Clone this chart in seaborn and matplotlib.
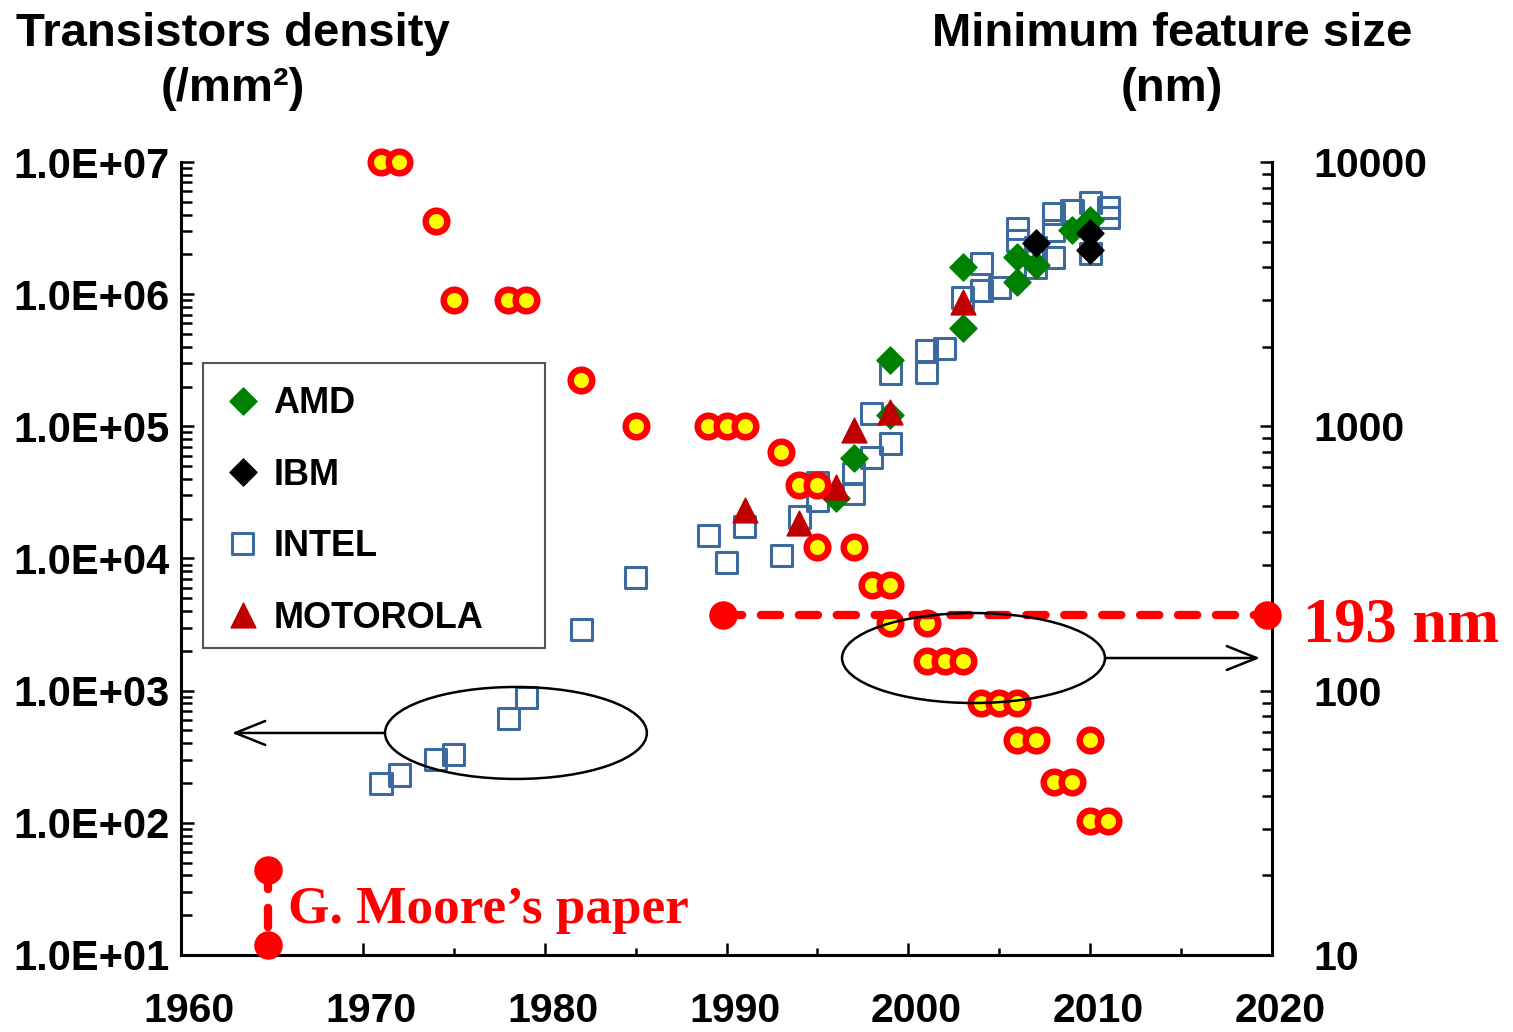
import matplotlib
matplotlib.use("Agg")
import matplotlib.pyplot as plt
import seaborn as sns
from matplotlib.patches import Ellipse, Rectangle
from matplotlib.ticker import FixedLocator, FuncFormatter, NullFormatter, MultipleLocator, LogLocator
from matplotlib.transforms import ScaledTranslation

# ---- Transistor density (transistors / mm^2), left axis ----
amd_year = [1996, 1997, 1999, 1999, 2003, 2003, 2006, 2006, 2007, 2009, 2010]
amd_density = [28600, 57500, 121000, 316000, 553000, 1.6e6, 1.9e6, 1.24e6, 1.65e6, 3.05e6, 3.63e6]

ibm_year = [2007, 2010, 2010]
ibm_density = [2.43e6, 2.89e6, 2.15e6]

intel_year = [1971, 1972, 1974, 1975, 1978, 1979, 1982, 1985, 1989, 1990, 1991, 1993,
              1994, 1995, 1995, 1997, 1997, 1998, 1998, 1999, 1999, 2001, 2001, 2002,
              2003, 2004, 2004, 2005, 2006, 2006, 2007, 2007, 2008, 2008, 2008, 2009,
              2010, 2010, 2011, 2011]
intel_density = [200, 230, 300, 330, 620, 890, 2900, 7200, 15000, 9400, 17500, 10600,
                 20600, 37800, 27600, 44000, 31000, 58500, 126000, 74600, 252000, 377000, 257000, 390000,
                 950000, 1.07e6, 1.71e6, 1.13e6, 3.16e6, 2.56e6, 1.6e6, 2.27e6, 4.1e6, 3.05e6, 1.9e6, 4.3e6,
                 4.9e6, 2.04e6, 4.55e6, 3.8e6]

motorola_year = [1991, 1994, 1996, 1997, 1999, 2003]
motorola_density = [23200, 18500, 34700, 93600, 128000, 870000]

# ---- Minimum feature size (nm), right axis ----
node_year = [1971, 1972, 1974, 1975, 1978, 1979, 1982, 1985, 1989, 1990, 1991, 1993,
             1994, 1995, 1995, 1997, 1998, 1999, 1999, 2001, 2001, 2002, 2003, 2004,
             2005, 2006, 2006, 2007, 2010, 2008, 2009, 2010, 2011]
node_nm = [10000, 10000, 6000, 3000, 3000, 3000, 1500, 1000, 1000, 1000, 1000, 800,
           600, 600, 350, 350, 250, 250, 180, 180, 130, 130, 130, 90,
           90, 90, 65, 65, 65, 45, 45, 32, 32]

# ---- Annotations ----
litho_year = [1989.8, 2019.7]
litho_nm = [193, 193]
moore_year = [1964.8, 1964.8]
moore_span = [44, 12]

year_ticks = [1960, 1970, 1980, 1990, 2000, 2010, 2020]
density_ticks = [1e1, 1e2, 1e3, 1e4, 1e5, 1e6, 1e7]
size_ticks = [10, 100, 1000, 10000]

RED = "#FF0000"
YELLOW = "#FFFF00"
GREEN = "#008000"
BLUE = "#3D6A9E"
DARKRED = "#C00000"

sns.set_style("white")
plt.rcParams["font.family"] = ["Liberation Sans", "DejaVu Sans"]
plt.rcParams["font.weight"] = "bold"
for key in ["text.color", "xtick.color", "ytick.color", "axes.labelcolor", "axes.edgecolor"]:
    plt.rcParams[key] = "black"

W, H = 1513, 1032
fig = plt.figure(figsize=(W / 100, H / 100), dpi=100)
ax = fig.add_axes([181 / W, 1 - 955 / H, (1272 - 181) / W, (955 - 162) / H])
ax2 = ax.twinx()

# density series
sns.scatterplot(x=intel_year, y=intel_density, ax=ax, marker="s", s=230,
                facecolor="none", edgecolor=BLUE, linewidth=2.2, label="INTEL",
                legend=False, zorder=3)
sns.scatterplot(x=amd_year, y=amd_density, ax=ax, marker="D", s=190,
                facecolor=GREEN, edgecolor=GREEN, linewidth=1, label="AMD",
                legend=False, zorder=4)
sns.scatterplot(x=ibm_year, y=ibm_density, ax=ax, marker="D", s=190,
                facecolor="black", edgecolor="black", linewidth=1, label="IBM",
                legend=False, zorder=5)
sns.scatterplot(x=motorola_year, y=motorola_density, ax=ax, marker="^", s=320,
                facecolor=DARKRED, edgecolor=DARKRED, linewidth=1, label="MOTOROLA",
                legend=False, zorder=6)

# feature size series
sns.scatterplot(x=node_year, y=node_nm, ax=ax2, marker="o", s=240,
                facecolor=YELLOW, edgecolor=RED, linewidth=4.7, legend=False,
                zorder=4, clip_on=False)

# 193 nm lithography line
ax2.plot(litho_year, litho_nm, color=RED, lw=6, linestyle=(0, (2.3, 2.25)),
         dash_capstyle="round", zorder=5, clip_on=False)
ax2.plot(litho_year, litho_nm, linestyle="none", marker="o", ms=19.5,
         color=RED, zorder=6, clip_on=False)

# Moore's paper marker
ax.plot(moore_year, moore_span, color=RED, lw=6, linestyle=(0, (2.3, 2.25)),
        dash_capstyle="round", zorder=7, clip_on=False)
ax.plot(moore_year, moore_span, linestyle="none", marker="o", ms=19.5,
        color=RED, zorder=8, clip_on=False)

# scales and limits
ax.set_xlim(1960, 2020)
ax.set_yscale("log")
ax.set_ylim(10, 1e7)
ax2.set_yscale("log")
ax2.set_ylim(10, 1e4)

ax.xaxis.set_major_locator(FixedLocator(year_ticks))
ax.xaxis.set_minor_locator(MultipleLocator(5))
ax.yaxis.set_major_locator(FixedLocator(density_ticks))
ax.yaxis.set_major_formatter(FuncFormatter(lambda v, p: f"{v:.1E}"))
ax.yaxis.set_minor_locator(LogLocator(base=10, subs=range(2, 10), numticks=100))
ax.yaxis.set_minor_formatter(NullFormatter())
ax2.yaxis.set_major_locator(FixedLocator(size_ticks))
ax2.yaxis.set_major_formatter(FuncFormatter(lambda v, p: f"{int(round(v))}"))
ax2.yaxis.set_minor_locator(LogLocator(base=10, subs=range(2, 10), numticks=100))
ax2.yaxis.set_minor_formatter(NullFormatter())

ax.tick_params(axis="y", which="major", direction="in", length=9, width=1.8,
               pad=8, labelsize=30, left=True, right=False)
ax.tick_params(axis="y", which="minor", direction="in", length=8, width=1.8,
               left=True, right=False)
ax.tick_params(axis="x", which="major", direction="in", length=9, width=1.8,
               pad=27, labelsize=29.5, bottom=True, top=False)
ax.tick_params(axis="x", which="minor", direction="in", length=5, width=1.8,
               bottom=True, top=False)
ax2.tick_params(axis="y", which="major", direction="in", length=9, width=1.8,
                pad=29.5, labelsize=29.5, right=True, left=False)
ax2.tick_params(axis="y", which="minor", direction="in", length=7, width=1.8,
                right=True, left=False)
for lab in ax.get_xticklabels():
    lab.set_transform(lab.get_transform() + ScaledTranslation(0.08, 0, fig.dpi_scale_trans))

for a in (ax, ax2):
    a.spines["top"].set_visible(False)
    for sp in a.spines.values():
        sp.set_linewidth(2.2)
        sp.set_color("black")
ax.spines["right"].set_visible(False)
ax2.spines["left"].set_visible(False)
ax2.spines["bottom"].set_visible(False)
ax.set_xlabel("")
ax.set_ylabel("")

# group ellipses with arrows pointing at their axis
ax2.add_patch(Ellipse((0.307, 0.280), 0.240, 0.116, transform=ax2.transAxes,
                      fill=False, ec="black", lw=1.8, zorder=9))
ax2.annotate("", xy=(0.0467, 0.280), xytext=(0.187, 0.280), xycoords="axes fraction",
             arrowprops=dict(arrowstyle="->,head_length=0.5,head_width=0.2", lw=1.8,
                             color="black", shrinkA=0, shrinkB=0, mutation_scale=43),
             zorder=9)
ax2.add_patch(Ellipse((0.7264, 0.3745), 0.241, 0.1135, transform=ax2.transAxes,
                      fill=False, ec="black", lw=1.8, zorder=9))
ax2.annotate("", xy=(0.989, 0.3745), xytext=(0.847, 0.3745), xycoords="axes fraction",
             arrowprops=dict(arrowstyle="->,head_length=0.5,head_width=0.2", lw=1.8,
                             color="black", shrinkA=0, shrinkB=0, mutation_scale=43),
             zorder=9)

# legend box and entries
ax2.add_patch(Rectangle(((203 - 181) / 1091, (955 - 648) / 793), (545 - 203) / 1091,
                        (648 - 363) / 793, transform=ax2.transAxes, fc="white",
                        ec="#555555", lw=1.5, zorder=19))
handles, labels = ax.get_legend_handles_labels()
order = ["AMD", "IBM", "INTEL", "MOTOROLA"]
hmap = dict(zip(labels, handles))
leg = ax2.legend([hmap[k] for k in order], order, loc="upper left",
                 bbox_to_anchor=((203 - 181) / 1091, (955 - 370) / 793),
                 prop=dict(weight="bold", size=26), frameon=False,
                 borderpad=0.45, labelspacing=1.01,
                 handlelength=1.3, handletextpad=0.2, borderaxespad=0,
                 scatterpoints=1, scatteryoffsets=[0.5])
leg.set_zorder(20)

# titles and annotations
fig.text(233 / W, 1 - 46 / H, "Transistors density", ha="center", va="baseline",
         fontsize=34, fontweight="bold")
fig.text(233 / W, 1 - 101 / H, "(/mm²)", ha="center", va="baseline",
         fontsize=34, fontweight="bold")
fig.text(1172 / W, 1 - 46 / H, "Minimum feature size", ha="center", va="baseline",
         fontsize=34, fontweight="bold")
fig.text(1172 / W, 1 - 101 / H, "(nm)", ha="center", va="baseline",
         fontsize=34, fontweight="bold")
fig.text(1303 / W, 1 - 642 / H, "193 nm", ha="left", va="baseline", color=RED,
         fontsize=45, fontweight="bold", family=["Liberation Serif", "DejaVu Serif"])
fig.text(288 / W, 1 - 923 / H, "G. Moore\u2019s paper", ha="left", va="baseline", color=RED,
         fontsize=38.3, fontweight="bold", family=["Liberation Serif", "DejaVu Serif"])

fig.savefig("out.png", dpi=100, facecolor="white")
